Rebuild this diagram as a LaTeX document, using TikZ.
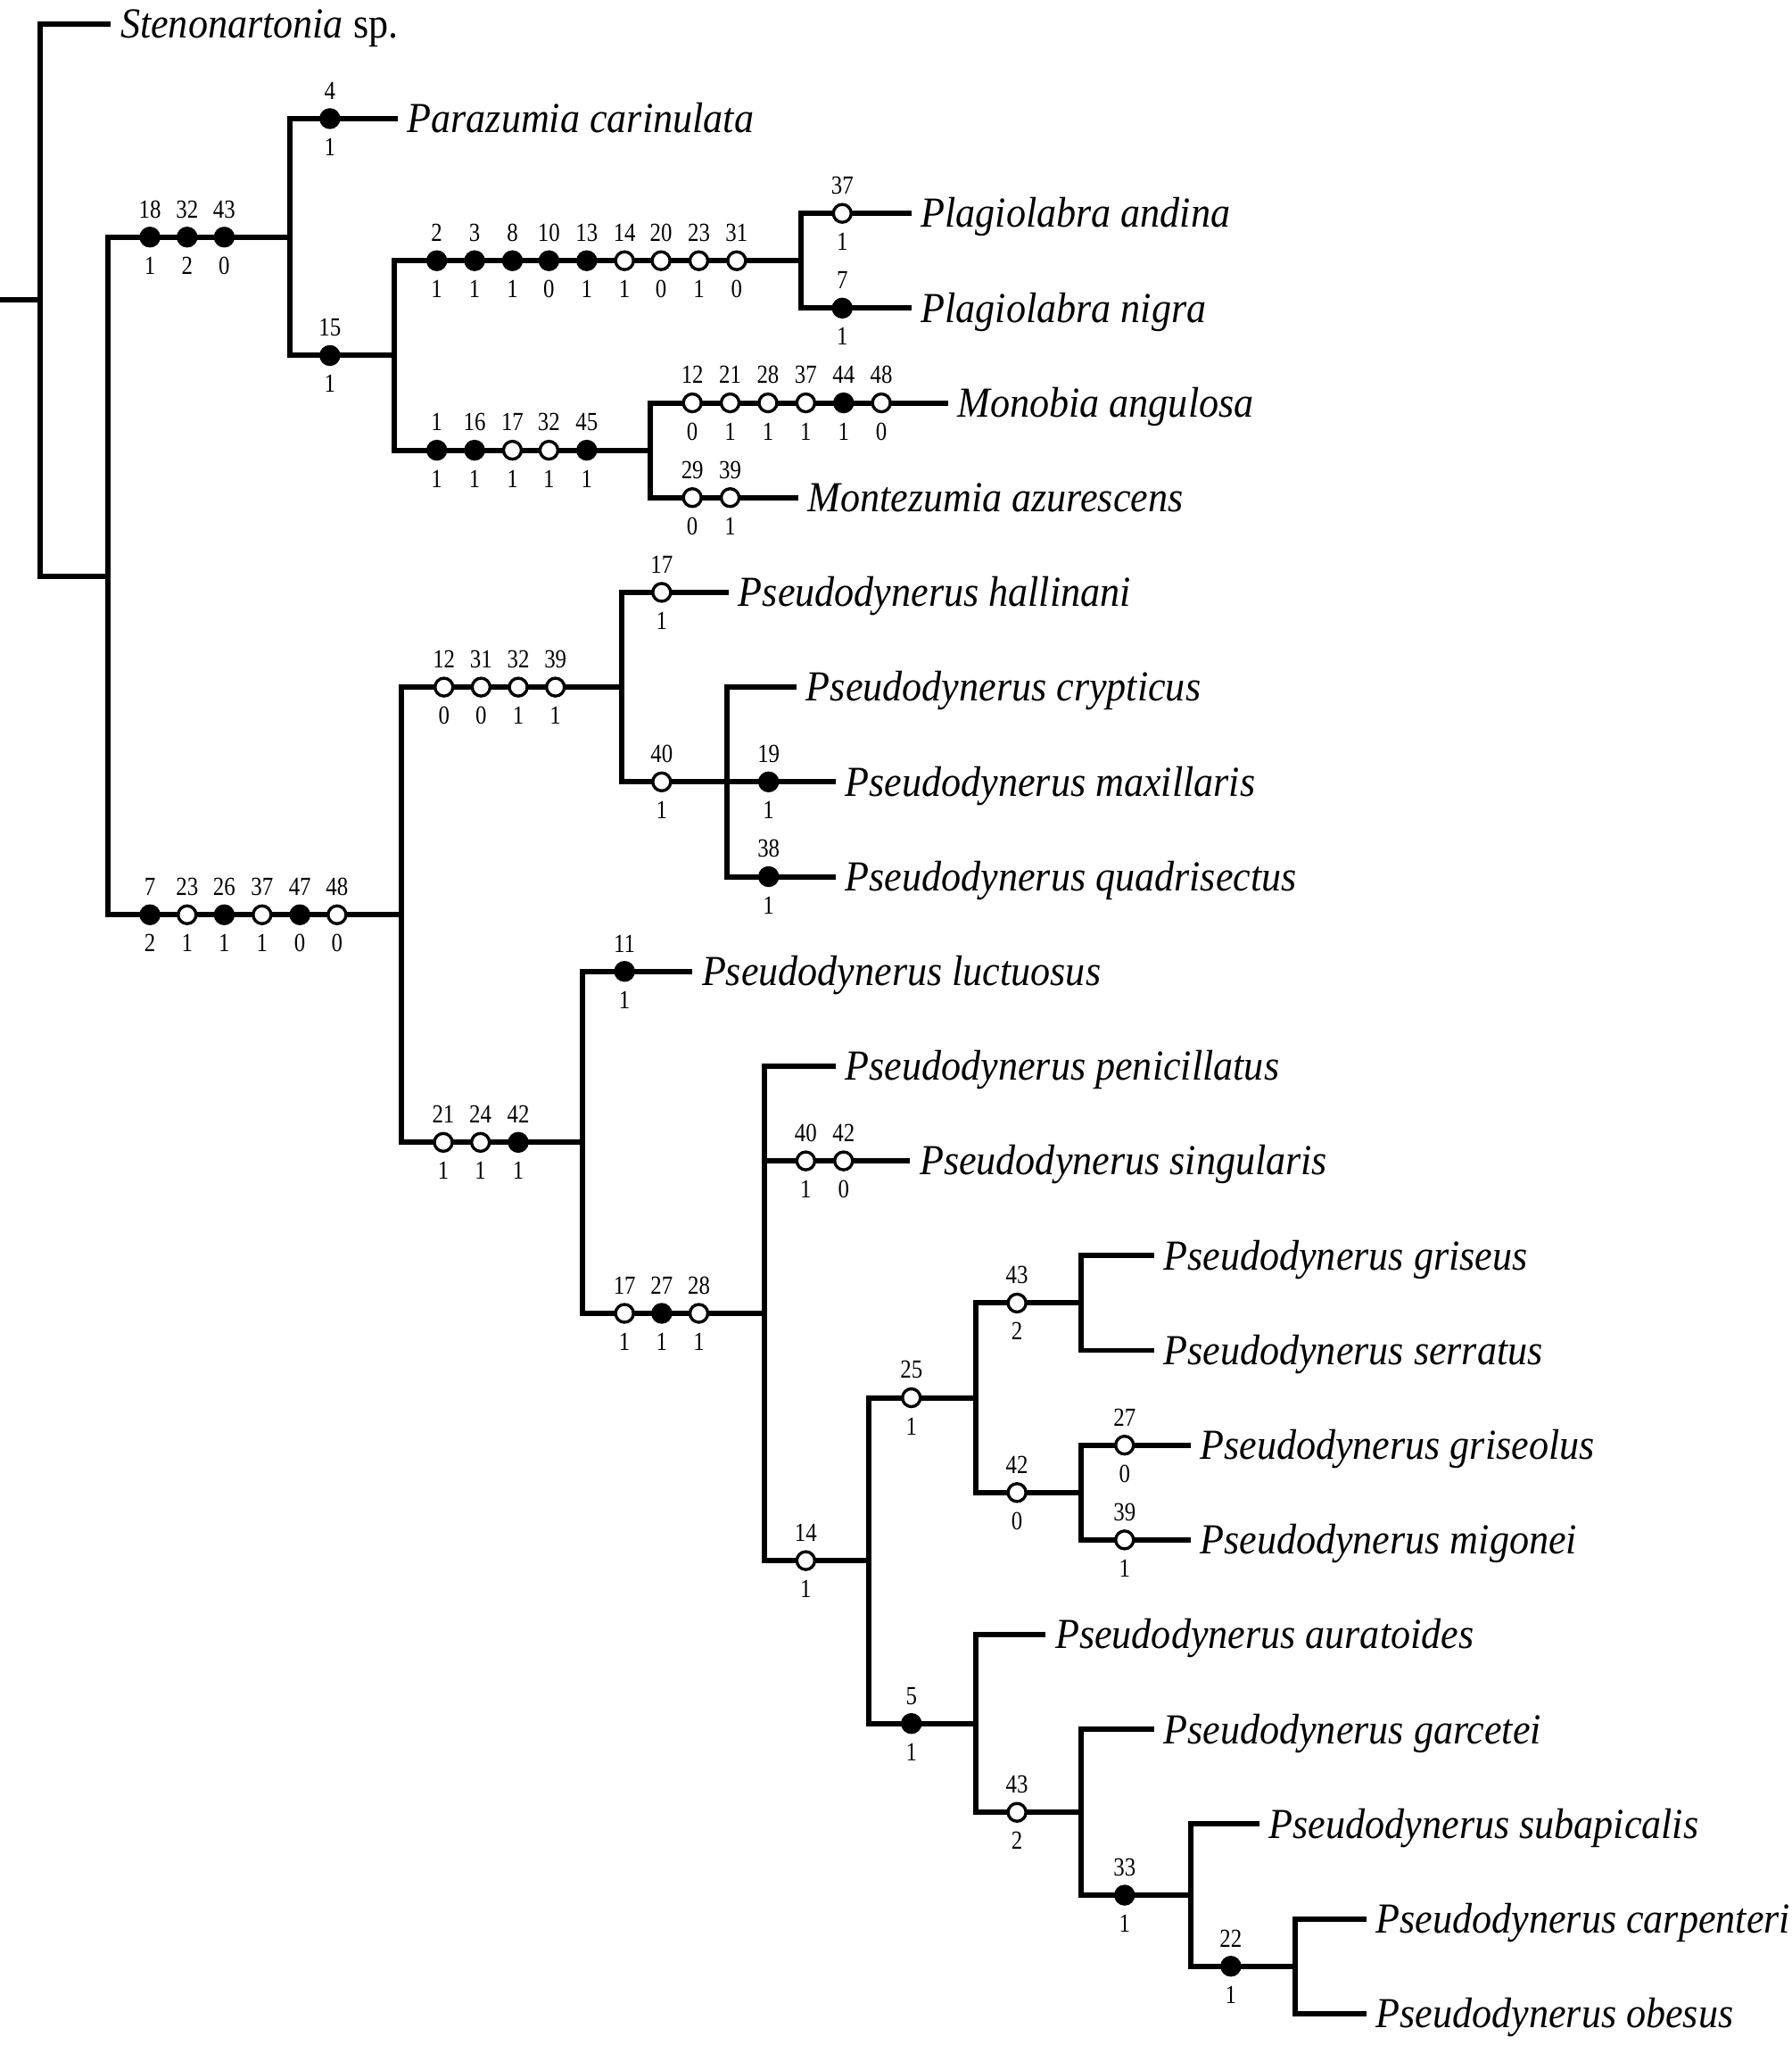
\documentclass[tikz,border=0pt]{standalone}
\usepackage{fontspec}
\setmainfont{Liberation Serif}
\newfontfamily\taxfont[FakeStretch=0.92]{Liberation Serif}
\newfontfamily\numfont[FakeStretch=0.85]{Liberation Serif}
\newcommand\chmark[6]{%
  \node[#4] (#1) at (#2,#3) {};
  \node[numlab] (#1t) at ([yshift=7.4pt]#1.center) {#5};
  \node[numlab] (#1b) at ([yshift=-14.2pt]#1.center) {#6};
}
\tikzset{
  br/.style={line width=2.05pt, line join=miter},
  fdot/.style={circle, fill=black, draw=black, line width=1.15pt, minimum size=6.85pt, inner sep=0pt},
  odot/.style={circle, fill=white, draw=black, line width=1.15pt, minimum size=6.85pt, inner sep=0pt},
  numlab/.style={font=\numfont\fontsize{10}{10}\selectfont, inner sep=0pt, anchor=base},
  taxon/.style={font=\taxfont\fontsize{16.4}{16.4}\selectfont\itshape, inner sep=0pt, anchor=base west, xshift=3.5pt, yshift=-5.4pt},
}
\begin{document}
\begin{tikzpicture}[x=0.5pt,y=-0.5pt]
\useasboundingbox (0,0) rectangle (1374,1568);
% leaves (line ends)
\coordinate (L0) at (85,18.3);
\coordinate (L1) at (305,90.95);
\coordinate (L2) at (699,163.6);
\coordinate (L3) at (699,236.25);
\coordinate (L4) at (727,308.9);
\coordinate (L5) at (612,381.55);
\coordinate (L6) at (559,454.2);
\coordinate (L7) at (611,526.85);
\coordinate (L8) at (641,599.5);
\coordinate (L9) at (641,672.15);
\coordinate (L10) at (531,744.8);
\coordinate (L11) at (641,817.45);
\coordinate (L12) at (698,890.1);
\coordinate (L13) at (885,962.75);
\coordinate (L14) at (885,1035.4);
\coordinate (L15) at (913,1108.05);
\coordinate (L16) at (913,1180.7);
\coordinate (L17) at (802,1253.35);
\coordinate (L18) at (885,1326);
\coordinate (L19) at (966,1398.65);
\coordinate (L20) at (1048,1471.3);
\coordinate (L21) at (1048,1543.95);
% internal nodes
\coordinate (S) at (0,230);
\coordinate (R) at (30.5,230);
\coordinate (B) at (83,441.6);
\coordinate (N18) at (222,181.8);
\coordinate (N15) at (302.5,272.6);
\coordinate (Plag) at (614,199.9);
\coordinate (Mon) at (499,345.2);
\coordinate (N7) at (308,701.4);
\coordinate (N12) at (477,526.85);
\coordinate (N40) at (557.5,599.5);
\coordinate (N21) at (447,875.9);
\coordinate (N17) at (586,1007);
\coordinate (N14) at (666,1196.6);
\coordinate (N25) at (748.5,1071.7);
\coordinate (N43a) at (829,999.1);
\coordinate (N42) at (829,1144.4);
\coordinate (N5) at (748.5,1321.5);
\coordinate (N43b) at (829,1389.6);
\coordinate (N33) at (913,1453.1);
\coordinate (N22) at (993.5,1507.6);
% branches
\draw[br] (S) -- (R);
\foreach \p/\c in {R/L0,R/B,B/N18,B/N7,N18/L1,N18/N15,N15/Plag,N15/Mon,Plag/L2,Plag/L3,Mon/L4,Mon/L5,
  N7/N12,N7/N21,N12/L6,N12/N40,N40/L7,N40/L8,N40/L9,N21/L10,N21/N17,N17/L11,N17/L12,N17/N14,
  N14/N25,N14/N5,N25/N43a,N25/N42,N43a/L13,N43a/L14,N42/L15,N42/L16,N5/L17,N5/N43b,N43b/L18,N43b/N33,
  N33/L19,N33/N22,N22/L20,N22/L21}
  \draw[br] (\p) |- (\c);
% taxa
\node[taxon] (T0) at (L0) {Stenonartonia \textup{sp.}};
\node[taxon] (T1) at (L1) {Parazumia carinulata};
\node[taxon] (T2) at (L2) {Plagiolabra andina};
\node[taxon] (T3) at (L3) {Plagiolabra nigra};
\node[taxon] (T4) at (L4) {Monobia angulosa};
\node[taxon] (T5) at (L5) {Montezumia azurescens};
\node[taxon] (T6) at (L6) {Pseudodynerus hallinani};
\node[taxon] (T7) at (L7) {Pseudodynerus crypticus};
\node[taxon] (T8) at (L8) {Pseudodynerus maxillaris};
\node[taxon] (T9) at (L9) {Pseudodynerus quadrisectus};
\node[taxon] (T10) at (L10) {Pseudodynerus luctuosus};
\node[taxon] (T11) at (L11) {Pseudodynerus penicillatus};
\node[taxon] (T12) at (L12) {Pseudodynerus singularis};
\node[taxon] (T13) at (L13) {Pseudodynerus griseus};
\node[taxon] (T14) at (L14) {Pseudodynerus serratus};
\node[taxon] (T15) at (L15) {Pseudodynerus griseolus};
\node[taxon] (T16) at (L16) {Pseudodynerus migonei};
\node[taxon] (T17) at (L17) {Pseudodynerus auratoides};
\node[taxon] (T18) at (L18) {Pseudodynerus garcetei};
\node[taxon] (T19) at (L19) {Pseudodynerus subapicalis};
\node[taxon] (T20) at (L20) {Pseudodynerus carpenteri};
\node[taxon] (T21) at (L21) {Pseudodynerus obesus};
% character changes
\chmark{a1}{115}{181.8}{fdot}{18}{1}
\chmark{a2}{143.5}{181.8}{fdot}{32}{2}
\chmark{a3}{172}{181.8}{fdot}{43}{0}
\chmark{b1}{253}{90.95}{fdot}{4}{1}
\chmark{c1}{253}{272.6}{fdot}{15}{1}
\chmark{d1}{335}{199.9}{fdot}{2}{1}
\chmark{d2}{364}{199.9}{fdot}{3}{1}
\chmark{d3}{393}{199.9}{fdot}{8}{1}
\chmark{d4}{421}{199.9}{fdot}{10}{0}
\chmark{d5}{450}{199.9}{fdot}{13}{1}
\chmark{d6}{479}{199.9}{odot}{14}{1}
\chmark{d7}{507}{199.9}{odot}{20}{0}
\chmark{d8}{536}{199.9}{odot}{23}{1}
\chmark{d9}{565}{199.9}{odot}{31}{0}
\chmark{e1}{646}{163.6}{odot}{37}{1}
\chmark{f1}{646}{236.25}{fdot}{7}{1}
\chmark{g1}{335}{345.2}{fdot}{1}{1}
\chmark{g2}{364}{345.2}{fdot}{16}{1}
\chmark{g3}{393}{345.2}{odot}{17}{1}
\chmark{g4}{421}{345.2}{odot}{32}{1}
\chmark{g5}{450}{345.2}{fdot}{45}{1}
\chmark{h1}{531}{308.9}{odot}{12}{0}
\chmark{h2}{560}{308.9}{odot}{21}{1}
\chmark{h3}{589}{308.9}{odot}{28}{1}
\chmark{h4}{618}{308.9}{odot}{37}{1}
\chmark{h5}{647}{308.9}{fdot}{44}{1}
\chmark{h6}{676}{308.9}{odot}{48}{0}
\chmark{i1}{531}{381.55}{odot}{29}{0}
\chmark{i2}{560}{381.55}{odot}{39}{1}
\chmark{j1}{115}{701.4}{fdot}{7}{2}
\chmark{j2}{143.5}{701.4}{odot}{23}{1}
\chmark{j3}{172}{701.4}{fdot}{26}{1}
\chmark{j4}{201}{701.4}{odot}{37}{1}
\chmark{j5}{230}{701.4}{fdot}{47}{0}
\chmark{j6}{258.5}{701.4}{odot}{48}{0}
\chmark{k1}{340.5}{526.85}{odot}{12}{0}
\chmark{k2}{369}{526.85}{odot}{31}{0}
\chmark{k3}{397.5}{526.85}{odot}{32}{1}
\chmark{k4}{426}{526.85}{odot}{39}{1}
\chmark{l1}{507.5}{454.2}{odot}{17}{1}
\chmark{m1}{507.5}{599.5}{odot}{40}{1}
\chmark{n1}{589.5}{599.5}{fdot}{19}{1}
\chmark{o1}{589.5}{672.15}{fdot}{38}{1}
\chmark{p1}{340}{875.9}{odot}{21}{1}
\chmark{p2}{368.5}{875.9}{odot}{24}{1}
\chmark{p3}{397.5}{875.9}{fdot}{42}{1}
\chmark{q1}{479}{744.8}{fdot}{11}{1}
\chmark{r1}{479}{1007}{odot}{17}{1}
\chmark{r2}{507.5}{1007}{fdot}{27}{1}
\chmark{r3}{536}{1007}{odot}{28}{1}
\chmark{s1}{618}{890.1}{odot}{40}{1}
\chmark{s2}{647}{890.1}{odot}{42}{0}
\chmark{t1}{618}{1196.6}{odot}{14}{1}
\chmark{u1}{699}{1071.7}{odot}{25}{1}
\chmark{v1}{780}{999.1}{odot}{43}{2}
\chmark{w1}{780}{1144.4}{odot}{42}{0}
\chmark{x1}{862.5}{1108.05}{odot}{27}{0}
\chmark{y1}{862.5}{1180.7}{odot}{39}{1}
\chmark{z1}{699}{1321.5}{fdot}{5}{1}
\chmark{z2}{780}{1389.6}{odot}{43}{2}
\chmark{z3}{862.5}{1453.1}{fdot}{33}{1}
\chmark{z4}{944}{1507.6}{fdot}{22}{1}
\end{tikzpicture}
\end{document}
